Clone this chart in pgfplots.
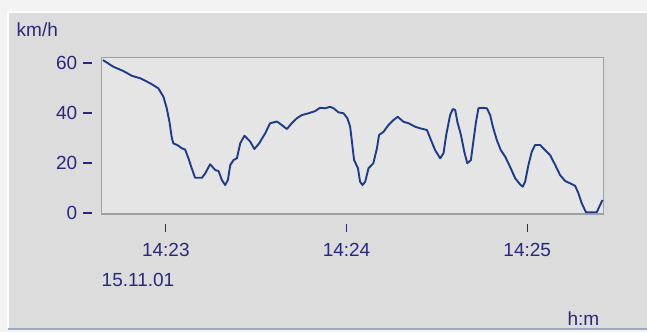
\documentclass[border=0pt]{standalone}
\usepackage{pgfplots}
\pgfplotsset{compat=1.18}
\usepackage{fontspec}
\setmainfont{Liberation Sans}
\definecolor{winbg}{HTML}{DCDCDC}
\definecolor{plotbg}{HTML}{E5E5E5}
\definecolor{framec}{HTML}{A0A0A0}
\definecolor{txt}{HTML}{28287F}
\definecolor{linec}{HTML}{1C3C8E}
\definecolor{outer}{HTML}{F3F3F3}
\definecolor{botline}{HTML}{9AAAC4}
\newcommand{\lf}{\fontsize{19}{24.3}\selectfont}
\begin{document}
\begin{tikzpicture}
\path[use as bounding box, fill=outer] (0pt,0pt) rectangle (647pt,332pt);
\fill[winbg] (8pt,3pt) rectangle (647pt,320pt);
\draw[white, line width=1.5pt] (8pt,3pt) -- (8pt,320pt) -- (647pt,320pt);
\draw[botline, line width=1.5pt] (8pt,3pt) -- (647pt,3pt);
\begin{axis}[
  at={(101.7pt,118pt)}, anchor=south west,
  scale only axis, width=502pt, height=156.7pt,
  xmin=-21.3, xmax=145.4, ymin=-0.3, ymax=62.4,
  axis background/.style={fill=plotbg},
  axis line style={draw=framec, line width=1.5pt},
  major tick length=0pt,
  xtick={0,60,120},
  xticklabel style={font=\lf, text=txt, align=center, anchor=north, inner sep=0pt, yshift=-10pt},
  xticklabels={{\rule{1.2pt}{7.7pt}\\14:23},{\rule{1.2pt}{7.7pt}\\14:24},{\rule{1.2pt}{7.7pt}\\14:25}},
  ytick={0,20,40,60},
  yticklabels={{0\hspace{6pt}\rule[0.33em]{8.5pt}{1.3pt}},{20\hspace{6pt}\rule[0.33em]{8.5pt}{1.3pt}},{40\hspace{6pt}\rule[0.33em]{8.5pt}{1.3pt}},{60\hspace{6pt}\rule[0.33em]{8.5pt}{1.3pt}}},
  yticklabel style={font=\lf, text=txt, anchor=east, inner sep=0pt, xshift=-9.7pt},
  clip=true,
]
\addplot[linec, line width=1.9pt, line join=round] coordinates {
(-20.9,61.3) (-17.4,58.6) (-14.1,56.9) (-11.3,55.0) (-8.5,54.0) (-5.2,52.0)
(-2.5,50.0) (-0.8,46.6) (0.3,42.0) (1.2,36.6) (2.0,30.0) (2.5,28.0)
(4.2,27.0) (5.3,26.0) (6.4,25.5) (7.5,22.0) (8.6,18.0) (9.7,14.2)
(12.0,14.2) (13.1,16.0) (14.7,19.6) (16.4,17.3) (17.5,16.9) (18.6,13.3)
(19.7,11.3) (20.6,13.3) (21.4,19.3) (22.5,21.3) (23.6,22.0) (24.7,28.0)
(26.1,31.0) (28.0,28.7) (29.4,25.7) (31.0,28.0) (33.0,32.0) (34.6,36.0)
(36.9,36.7) (38.5,35.3) (40.2,33.7) (41.8,36.0) (43.5,38.0) (45.2,39.3)
(47.4,40.0) (49.6,40.9) (51.2,42.2) (52.9,42.0) (54.6,42.6) (55.7,42.0)
(57.3,40.4) (59.0,40.0) (60.3,38.0) (61.2,34.6) (61.8,28.6) (62.5,21.3)
(63.8,18.0) (64.5,12.6) (65.3,11.3) (66.2,12.6) (67.3,18.0) (68.9,20.0)
(70.1,26.0) (70.8,31.3) (72.3,32.6) (73.9,35.3) (75.6,37.3) (77.0,38.6)
(78.9,36.6) (80.6,36.0) (82.8,34.6) (84.4,34.0) (86.7,33.3) (87.8,30.0)
(89.4,25.3) (91.1,22.0) (92.2,24.0) (93.1,31.3) (94.4,39.3) (95.3,41.7)
(96.1,41.3) (96.8,36.6) (98.0,31.3) (99.1,24.6) (100.1,20.0) (101.3,21.3)
(102.1,28.6) (103.0,36.6) (103.8,42.0) (104.9,42.2) (106.6,42.0) (107.7,39.3)
(108.6,34.6) (109.9,29.3) (111.2,25.3) (112.7,22.6) (114.3,18.6) (116.0,14.0)
(117.6,11.6) (118.5,10.6) (119.3,12.6) (120.4,19.3) (121.5,24.6) (122.6,27.3)
(124.3,27.3) (125.9,25.3) (127.6,23.3) (129.3,19.3) (130.9,15.3) (132.6,12.9)
(134.2,12.0) (135.9,11.0) (137.0,8.0) (138.1,4.0) (139.5,0.4) (141.5,0.4)
(143.1,0.4) (144.2,3.3) (145.0,5.3)
};
\end{axis}
\node[anchor=base west, inner sep=0pt, font=\lf, text=txt] at (16.5pt,295pt) {km/h};
\node[anchor=base west, inner sep=0pt, font=\lf, text=txt] at (101.5pt,46pt) {15.11.01};
\node[anchor=base east, inner sep=0pt, font=\lf, text=txt] at (599.5pt,7pt) {h:m};
\end{tikzpicture}
\end{document}
